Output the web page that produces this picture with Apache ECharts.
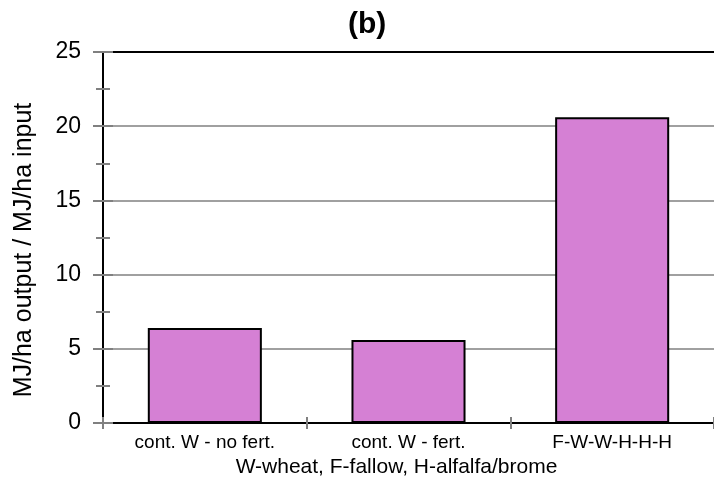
<!DOCTYPE html>
<html>
<head>
<meta charset="utf-8">
<script src="https://cdn.jsdelivr.net/npm/echarts@6/dist/echarts.min.js"></script>
<style>
  html, body { margin: 0; padding: 0; background: #ffffff; }
  #chart { width: 714px; height: 483px; }
</style>
</head>
<body>
<div id="chart"></div>
<script>
// Energy output/input ratio by rotation
const categories = ['cont. W - no fert.', 'cont. W - fert.', 'F-W-W-H-H-H'];
const ratioValues = [6.4, 5.6, 20.6];
const yTicks = [0, 5, 10, 15, 20, 25];

const FONT = '"Liberation Sans", Arial, Helvetica, sans-serif';
const GRAY = '#808080';

const chart = echarts.init(document.getElementById('chart'), null, { renderer: 'canvas' });

// tick marks cross the axis line: one axis draws the outer half, a twin draws the inner half
function yAxisDef(inside, primary) {
  return {
    type: 'value',
    position: 'left',
    min: yTicks[0],
    max: yTicks[yTicks.length - 1],
    interval: 5,
    axisLine: { show: primary, lineStyle: { color: '#000', width: 2 } },
    axisTick: { show: true, inside: inside, length: 10, lineStyle: { color: GRAY, width: 2 } },
    minorTick: { show: true, splitNumber: 2, length: 7, lineStyle: { color: GRAY, width: 2 } },
    axisLabel: {
      show: primary,
      fontFamily: FONT, fontSize: 23, color: '#000', margin: 22,
      formatter: function (v) { return yTicks.indexOf(v) >= 0 ? String(v) : ''; }
    },
    splitLine: { show: primary, lineStyle: { color: GRAY, width: 1.5 } },
    minorSplitLine: { show: false }
  };
}

function xAxisDef(inside, primary) {
  return {
    type: 'category',
    position: 'bottom',
    data: categories,
    name: primary ? 'W-wheat, F-fallow, H-alfalfa/brome' : '',
    nameLocation: 'middle',
    nameGap: 33,
    nameTextStyle: { fontFamily: FONT, fontSize: 21, color: '#000', padding: [0, 24, 0, 0] },
    axisLine: { show: primary, lineStyle: { color: '#000', width: 2 } },
    axisTick: { show: true, inside: inside, length: 6, lineStyle: { color: GRAY, width: 2 } },
    axisLabel: { show: primary, fontFamily: FONT, fontSize: 19, color: '#000', margin: 10 },
    splitLine: { show: false }
  };
}

chart.setOption({
  backgroundColor: '#ffffff',
  animation: false,
  title: {
    text: '(b)',
    left: 343,
    top: 5,
    textStyle: { fontFamily: FONT, fontSize: 30, fontWeight: 'bold', color: '#000' }
  },
  grid: { left: 103, right: -3, top: 52, bottom: 57, containLabel: false },
  graphic: [{
    type: 'text',
    x: 24,
    y: 250,
    rotation: Math.PI / 2,
    style: {
      text: 'MJ/ha output / MJ/ha input',
      fontFamily: FONT,
      fontSize: 25,
      fill: '#000',
      align: 'center',
      verticalAlign: 'middle'
    }
  }],
  xAxis: [
    xAxisDef(false, true),
    xAxisDef(true, false),
    {
      type: 'category',
      position: 'top',
      data: categories,
      axisLine: { show: true, lineStyle: { color: '#000', width: 2 } },
      axisTick: { show: false },
      axisLabel: { show: false }
    }
  ],
  yAxis: [yAxisDef(false, true), yAxisDef(true, false)],
  series: [{
    type: 'bar',
    xAxisIndex: 0,
    yAxisIndex: 0,
    data: ratioValues,
    barWidth: '56%',
    itemStyle: { color: '#D580D4', borderColor: '#000', borderWidth: 2 },
    z: 3
  }]
});
</script>
</body>
</html>
